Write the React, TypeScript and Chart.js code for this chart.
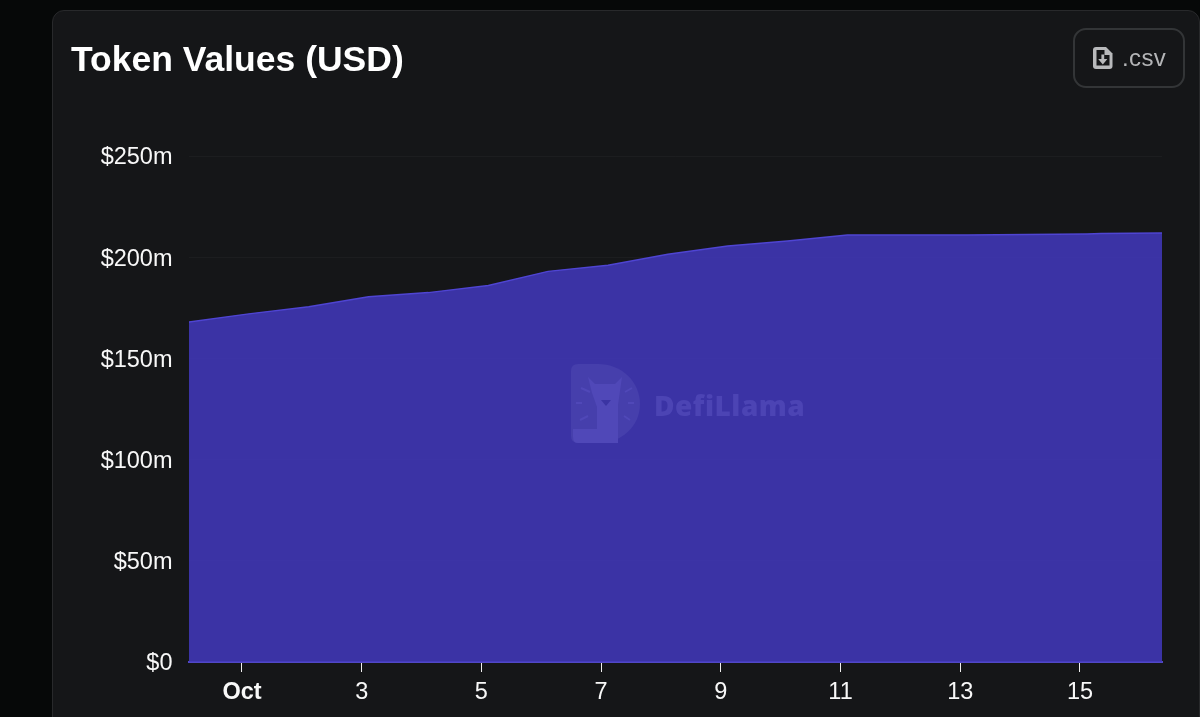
import React, { useEffect, useRef } from "react";
import { Chart, registerables } from "chart.js";

Chart.register(...registerables);

const titleText = "Token Values (USD)";
const buttonLabel = ".csv";
const watermarkLabel = "DefiLlama";
// x values are days of October (0 = 30 Sep)
const dayPositions = [0.115, 1.115, 2.115, 3.115, 4.115, 5.115, 6.115, 7.115, 8.115, 9.115, 10.115, 11.115, 12.115, 13.115, 14.115, 15.115, 15.35, 16.37];
const tokenValues = [168, 172, 175.5, 180.5, 182.5, 186, 193, 196, 201.5, 205.5, 208, 211, 211, 211, 211.2, 211.5, 211.7, 212];
const xTickDays = [1, 3, 5, 7, 9, 11, 13, 15];
const yTickValues = [0, 50, 100, 150, 200, 250];

const FONT = '"Liberation Sans", Arial, sans-serif';

const nudgeYLabels = {
  id: "nudgeYLabels",
  beforeDraw(chart: any) {
    chart.scales.y.getLabelItems(chart.chartArea).forEach((item: any) => {
      if (!item.nudged) {
        item.options.translation = [item.options.translation[0], item.options.translation[1] + 2];
        item.nudged = true;
      }
    });
  },
};

export default function App() {
  const ref = useRef<HTMLCanvasElement>(null);

  useEffect(() => {
    const chart = new Chart(ref.current!, {
      type: "line",
      plugins: [nudgeYLabels],
      data: {
        datasets: [
          {
            data: dayPositions.map((d, i) => ({ x: d, y: tokenValues[i] })),
            borderColor: "#4f45d2",
            borderWidth: 1.5,
            backgroundColor: "rgba(66,56,190,0.85)",
            fill: "origin",
            tension: 0,
            pointRadius: 0,
          },
        ],
      },
      options: {
        animation: false,
        responsive: false,
        devicePixelRatio: 1,
        layout: { padding: { left: 0, right: 38, top: 156, bottom: 0 } },
        plugins: { legend: { display: false }, tooltip: { enabled: false }, title: { display: false } },
        scales: {
          x: {
            type: "linear",
            min: 0.115,
            max: 16.37,
            afterFit: (s: any) => { s.height = 55; },
            afterBuildTicks: (s: any) => { s.ticks = xTickDays.map((v) => ({ value: v })); },
            border: { color: "#5148c4", width: 2 },
            grid: { display: true, drawOnChartArea: false, drawTicks: true, tickLength: 10, color: "#eeeeee", tickWidth: 1 },
            ticks: {
              maxRotation: 0,
              autoSkip: false,
              padding: 6,
              color: "#f8f8f8",
              font: (c: any) => ({ family: FONT, size: 23.5, weight: c.tick && c.tick.value === 1 ? "bold" : "normal" }),
              callback: (v: any) => (v === 1 ? "Oct" : String(v)),
            },
          },
          y: {
            min: 0,
            max: 250,
            afterFit: (s: any) => { s.width = 189; },
            afterBuildTicks: (s: any) => { s.ticks = yTickValues.map((v) => ({ value: v })); },
            border: { display: false },
            grid: { color: "rgba(255,255,255,0.03)", drawTicks: false },
            ticks: {
              padding: 16.5,
              color: "#f8f8f8",
              font: { family: FONT, size: 23.5 },
              callback: (v: any) => `$${v}m`.replace("$0m", "$0"),
            },
          },
        },
      },
    } as any);
    return () => chart.destroy();
  }, []);

  return (
    <div style={{ position: "fixed", left: 0, top: 0, width: 1200, height: 717, background: "#060808", overflow: "hidden" }}>
      <div
        style={{
          position: "absolute", left: 52, top: 10, width: 1148, height: 760, boxSizing: "border-box",
          background: "#151618", border: "1.5px solid #28292b", borderRadius: 12,
        }}
      />
      <canvas ref={ref} width={1200} height={717} style={{ position: "absolute", left: 0, top: 0, width: 1200, height: 717 }} />
      <div style={{ position: "absolute", left: 71, top: 38, font: `bold 35.5px ${FONT}`, color: "#ffffff", lineHeight: "42px", whiteSpace: "nowrap" }}>
        {titleText}
      </div>
      <div
        style={{
          position: "absolute", left: 1073, top: 28, width: 112, height: 60, boxSizing: "border-box",
          border: "2px solid #333537", borderRadius: 13,
        }}
      >
        <svg width="22" height="24" viewBox="0 0 22 24" style={{ position: "absolute", left: 17, top: 16 }}>
          <path
            d="M4 1H14L20.5 7.5V20a3 3 0 0 1-3 3H4a3 3 0 0 1-3-3V4A3 3 0 0 1 4 1Z"
            fill="#b8b9bb"
          />
          <path d="M4.5 4H12.5V9H17.5V19.5H4.5Z" fill="#151618" />
          <path d="M9.4 8.5H12.2V13H15.4L10.8 18.4L6.2 13H9.4Z" fill="#b8b9bb" />
        </svg>
        <span style={{ position: "absolute", left: 47, top: 14, font: `24px ${FONT}`, lineHeight: "28px", letterSpacing: "0.4px", color: "#b4b5b7" }}>
          {buttonLabel}
        </span>
      </div>
      <svg width="72" height="82" viewBox="0 0 72 82" style={{ position: "absolute", left: 570, top: 363 }}>
        <path d="M8 1H28C52 1 70 19 70 41C70 63 52 80 28 80H8Q1 80 1 73V8Q1 1 8 1Z" fill="#463fac" />
        <path
          d="M18 14L25 21H45L52 14L50 28L48 42V80H8Q3 80 3 74V66L27 66V44L22 30Z"
          fill="#5048b8"
        />
        <path d="M31 37H41L36 43Z" fill="#3b34a3" />
        <g stroke="#5048b8" strokeWidth="2" fill="none">
          <path d="M11 25L20 29M6 40H12M10 57L18 53M55 29L62 25M58 40H64M54 53L60 57" />
        </g>
      </svg>
      <div
        style={{
          position: "absolute", left: 654, top: 388, font: `800 28px "Open Sans", sans-serif`, color: "#4c44b4",
          lineHeight: "34px", letterSpacing: "0.5px", whiteSpace: "nowrap",
        }}
      >
        {watermarkLabel}
      </div>
    </div>
  );
}
